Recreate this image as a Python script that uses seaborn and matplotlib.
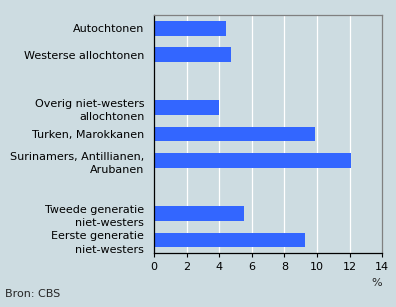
import pandas as pd
import numpy as np
import matplotlib
matplotlib.use("Agg")
import matplotlib.pyplot as plt
import seaborn as sns

# categories (blank slots separate the groups)
labels = [
    "Autochtonen",
    "Westerse allochtonen",
    " ",
    "Overig niet-westers\nallochtonen",
    "Turken, Marokkanen",
    "Surinamers, Antillianen,\nArubanen",
    "  ",
    "Tweede generatie\nniet-westers",
    "Eerste generatie\nniet-westers",
]
values = [4.4, 4.7, np.nan, 4.0, 9.9, 12.1, np.nan, 5.5, 9.25]
xticks = [0, 2, 4, 6, 8, 10, 12, 14]

bg = "#CDDCE1"
bar_color = "#3366FF"

df = pd.DataFrame({"groep": labels, "pct": values})

sns.set_theme(style="white")
plt.rcParams["font.family"] = ["DejaVu Sans"]

fig = plt.figure(figsize=(3.96, 3.07), dpi=100, facecolor=bg)
ax = fig.add_axes([0.389, 0.175, 0.5765, 0.776])
ax.set_facecolor(bg)

sns.barplot(data=df, y="groep", x="pct", order=labels, color=bar_color,
            saturation=1, width=0.55, linewidth=0, edgecolor="none", ax=ax)

ax.set_xlim(0, 14)
ax.set_xticks(xticks)
ax.set_xticklabels([str(t) for t in xticks], fontsize=8, color="black")
ax.tick_params(axis="x", length=3, width=0.8, color="black", pad=3, bottom=True)
ax.tick_params(axis="y", length=0, pad=7, labelsize=8, labelcolor="black")
for t in ax.get_yticklabels():
    t.set_linespacing(1.45)
ax.set_xlabel("")
ax.set_ylabel("")

for x in xticks[1:-1]:
    ax.axvline(x, color="white", lw=0.9, zorder=0)
ax.set_axisbelow(True)

for s in ["left", "bottom"]:
    ax.spines[s].set_color("black")
    ax.spines[s].set_linewidth(0.9)
for s in ["top", "right"]:
    ax.spines[s].set_visible(True)
    ax.spines[s].set_color("#808080")
    ax.spines[s].set_linewidth(0.9)

fig.text(377 / 396, 1 - 283 / 307, "%", fontsize=8, ha="center", va="center")
fig.text(5 / 396, 1 - 294 / 307, "Bron: CBS", fontsize=8, ha="left", va="center")

fig.savefig("out.png", dpi=100, facecolor=bg)
